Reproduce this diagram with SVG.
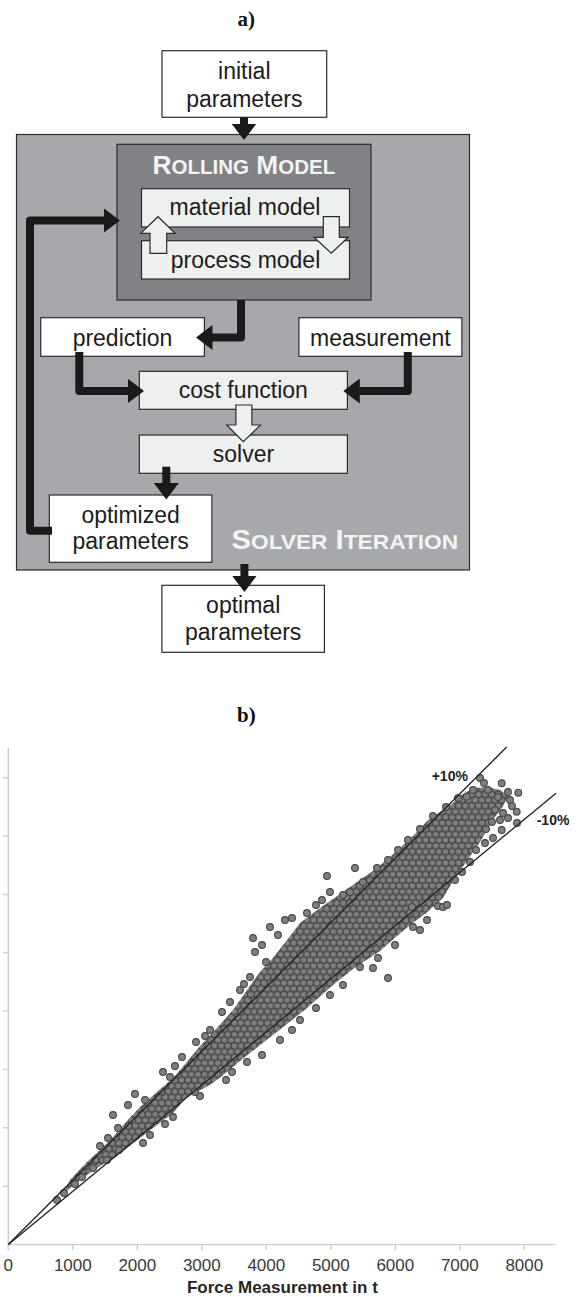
<svg xmlns="http://www.w3.org/2000/svg" width="581" height="1297" viewBox="0 0 581 1297">
<defs>
<style>
 .lbl{font-family:"Liberation Sans",Arial,sans-serif;font-size:23px;fill:#1c1c1c;text-anchor:middle}
 .wbox{fill:#ffffff;stroke:#2a2a2a;stroke-width:1.2}
 .lbox{fill:#eef0ef;stroke:#2a2a2a;stroke-width:1.2}
 .hollow{fill:#eef0ef;stroke:#2a2a2a;stroke-width:1.2}
 .conn{fill:none;stroke:#1a1a1a;stroke-width:8;stroke-linejoin:round;marker-end:url(#ah)}
 .title{font-family:"Liberation Sans",Arial,sans-serif;font-weight:bold;fill:#f4f4f4}
 .cap{font-family:"Liberation Serif","Times New Roman",serif;font-weight:bold;font-size:21px;fill:#111;text-anchor:middle}
 .tick{font-family:"Liberation Sans",Arial,sans-serif;font-size:17px;fill:#3a3a3a;text-anchor:middle}
 .axis{stroke:#cfcfcf;stroke-width:1.5;fill:none}
 .pt{fill:#7f7f7f;stroke:#474747;stroke-width:1.1}
 .ref{stroke:#262626;stroke-width:1.4;fill:none}
 .pct{font-family:"Liberation Sans",Arial,sans-serif;font-weight:bold;font-size:14px;fill:#222}
</style>
<marker id="ah" markerUnits="userSpaceOnUse" markerWidth="16.5" markerHeight="25" viewBox="0 0 16.5 25" refX="0.5" refY="12.5" orient="auto">
 <path d="M0,0 L16.5,12.5 L0,25 z" fill="#1a1a1a"/>
</marker>
<pattern id="dots" patternUnits="userSpaceOnUse" width="6.6" height="11.43">
 <rect width="6.6" height="11.43" fill="#7c7c7c"/>
 <circle cx="0" cy="0" r="3.2" class="pt"/>
 <circle cx="6.6" cy="0" r="3.2" class="pt"/>
 <circle cx="0" cy="11.43" r="3.2" class="pt"/>
 <circle cx="6.6" cy="11.43" r="3.2" class="pt"/>
 <circle cx="3.3" cy="5.715" r="3.2" class="pt"/>
</pattern>
<filter id="soft" x="-5%" y="-5%" width="110%" height="110%"><feGaussianBlur stdDeviation="0.45"/></filter>
</defs>

<rect width="581" height="1297" fill="#ffffff"/>

<!-- panel a: solver loop -->
<text class="cap" x="246.3" y="26">a)</text>

<g id="solver-iteration">
 <rect x="16.5" y="134.5" width="453" height="435.5" fill="#a7a8ab" stroke="#2a2a2a" stroke-width="1.2"/>
</g>
<g id="rolling-model">
 <rect x="117" y="144.3" width="254" height="155.7" fill="#818285" stroke="#2a2a2a" stroke-width="1.2"/>
</g>
<g id="material-model">
 <rect class="lbox" x="141.5" y="188.7" width="208" height="38.3"/>
 <text class="lbl" x="245" y="215">material model</text>
</g>
<g id="process-model">
 <rect class="lbox" x="141.5" y="240.7" width="208" height="38.3"/>
 <text class="lbl" x="245.5" y="268">process model</text>
</g>
<g id="initial-parameters">
 <rect class="wbox" x="162" y="50.7" width="164.7" height="66.6"/>
 <text class="lbl" x="244.3" y="79">initial</text>
 <text class="lbl" x="244.3" y="106.7">parameters</text>
</g>
<g id="prediction">
 <rect class="wbox" x="40.7" y="317.7" width="163.7" height="38.6"/>
 <text class="lbl" x="122.5" y="346">prediction</text>
</g>
<g id="measurement">
 <rect class="wbox" x="298.9" y="317.7" width="163" height="38.6"/>
 <text class="lbl" x="380.4" y="346">measurement</text>
</g>
<g id="cost-function">
 <rect class="lbox" x="139.3" y="371.3" width="208.1" height="38"/>
 <text class="lbl" x="243.3" y="398.3">cost function</text>
</g>
<g id="solver">
 <rect class="lbox" x="139.3" y="435" width="208.1" height="38.3"/>
 <text class="lbl" x="243.5" y="462.3">solver</text>
</g>
<g id="optimized-parameters">
 <rect class="wbox" x="49.3" y="495" width="162.6" height="67.3"/>
 <text class="lbl" x="130.6" y="522.7">optimized</text>
 <text class="lbl" x="130.6" y="549.3">parameters</text>
</g>
<g id="optimal-parameters">
 <rect class="wbox" x="161.9" y="585.3" width="162.5" height="67"/>
 <text class="lbl" x="243.2" y="612.7">optimal</text>
 <text class="lbl" x="243.2" y="640">parameters</text>
</g>

<g id="connectors">
 <path class="conn" d="M244,117.3 V124"/>
 <path class="conn" d="M241,300 V337.5 H212"/>
 <path class="conn" d="M79.3,352 V391 H128"/>
 <path class="conn" d="M407.8,352 V391 H359.3"/>
 <path class="conn" d="M166.3,466.7 V483.5"/>
 <path class="conn" d="M244.4,564 V576"/>
 <path class="conn" d="M52,530.8 H30 V220.5 H104"/>
 <!-- hollow exchange arrows -->
 <polygon class="hollow" points="150,253.3 150,233.3 140.7,233.3 158,216.7 175.2,233.3 166.7,233.3 166.7,253.3"/>
 <polygon class="hollow" points="323.3,216.7 339.3,216.7 339.3,237.3 348.1,237.3 331.3,253.3 314,237.3 323.3,237.3"/>
 <polygon class="hollow" points="235.9,405 251.9,405 251.9,425 260.4,425 243.3,441.7 226.7,425 235.9,425"/>
</g>

<g id="titles">
 <text class="title" x="243.9" y="174.3" text-anchor="middle" textLength="182.6" lengthAdjust="spacingAndGlyphs"><tspan font-size="25">R</tspan><tspan font-size="19.5">OLLING</tspan><tspan font-size="25"> M</tspan><tspan font-size="19.5">ODEL</tspan></text>
 <text class="title" x="231.5" y="549.3" textLength="226.6" lengthAdjust="spacingAndGlyphs"><tspan font-size="27">S</tspan><tspan font-size="21">OLVER</tspan><tspan font-size="27"> I</tspan><tspan font-size="21">TERATION</tspan></text>
</g>

<!-- panel b: force prediction vs. measurement -->
<text class="cap" x="246.3" y="721.5">b)</text>

<g id="chart">
 <g id="axes">
  <path class="axis" d="M8.3,748 V1244.5 H555.6"/>
  <path class="axis" d="M3,1186.15 H8.3 M3,1127.8 H8.3 M3,1069.45 H8.3 M3,1011.1 H8.3 M3,952.75 H8.3 M3,894.4 H8.3 M3,836.05 H8.3 M3,777.7 H8.3"/>
  <path class="axis" d="M8.3,1244.5 V1250 M72.8,1244.5 V1250 M137.3,1244.5 V1250 M201.8,1244.5 V1250 M266.3,1244.5 V1250 M330.8,1244.5 V1250 M395.3,1244.5 V1250 M459.8,1244.5 V1250 M524.3,1244.5 V1250"/>
  <text class="tick" x="8.3" y="1271">0</text>
  <text class="tick" x="72.8" y="1271">1000</text>
  <text class="tick" x="137.3" y="1271">2000</text>
  <text class="tick" x="201.8" y="1271">3000</text>
  <text class="tick" x="266.3" y="1271">4000</text>
  <text class="tick" x="330.8" y="1271">5000</text>
  <text class="tick" x="395.3" y="1271">6000</text>
  <text class="tick" x="459.8" y="1271">7000</text>
  <text class="tick" x="524.3" y="1271">8000</text>
  <text x="282.4" y="1293" text-anchor="middle" font-family="Liberation Sans, Arial, sans-serif" font-weight="bold" font-size="17" fill="#262626">Force Measurement in t</text>
 </g>

 <g id="scatter" filter="url(#soft)">
  <!-- dense core of the point cloud -->
  <polygon fill="url(#dots)" points="62,1195 70,1180 87,1162 100,1150 113,1137 127,1121 140,1107 157,1092 173,1078 187,1062 200,1046 217,1028 233,1010 247,990 260,972 273,958 287,940 300,923 320,908 340,894 360,880 377,868 390,857 400,848 413,836 427,821 440,812 453,803 463,794 474,788 488,787 500,790 508,796 503,806 494,818 487,830 480,842 471,855 462,868 453,881 443,898 425,914 410,925 397,936 380,951 353,969 333,985 307,1008 287,1024 273,1035 255,1049 240,1061 222,1076 210,1085 187,1097 173,1113 157,1125 140,1138 117,1156 100,1166 87,1175 70,1188 62,1196"/>
  <!-- scattered points round the core -->
  <g class="pt">
   <circle cx="57" cy="1200" r="3.4"/><circle cx="64" cy="1193" r="3.4"/><circle cx="75" cy="1184" r="3.4"/><circle cx="82" cy="1177" r="3.4"/>
   <circle cx="93" cy="1168" r="3.4"/><circle cx="107" cy="1160" r="3.4"/><circle cx="119" cy="1150" r="3.4"/><circle cx="143" cy="1143" r="3.4"/>
   <circle cx="150" cy="1135" r="3.4"/><circle cx="173" cy="1117" r="3.4"/><circle cx="165" cy="1124" r="3.4"/><circle cx="200" cy="1096" r="3.4"/>
   <circle cx="195" cy="1092" r="3.4"/><circle cx="226" cy="1080" r="3.4"/><circle cx="262" cy="1055" r="3.4"/><circle cx="247" cy="1062" r="3.4"/>
   <circle cx="232" cy="1072" r="3.4"/><circle cx="280" cy="1040" r="3.4"/><circle cx="292" cy="1030" r="3.4"/>
   <circle cx="300" cy="1020" r="3.4"/><circle cx="316" cy="1008" r="3.4"/><circle cx="330" cy="995" r="3.4"/><circle cx="343" cy="985" r="3.4"/>
   <circle cx="360" cy="967" r="3.4"/><circle cx="373" cy="968" r="3.4"/><circle cx="378" cy="958" r="3.4"/><circle cx="388" cy="978" r="3.4"/>
   <circle cx="395" cy="945" r="3.4"/><circle cx="410" cy="913" r="3.4"/><circle cx="412" cy="907" r="3.4"/><circle cx="420" cy="930" r="3.4"/>
   <circle cx="427" cy="920" r="3.4"/><circle cx="413" cy="927" r="3.4"/><circle cx="438" cy="906" r="3.4"/><circle cx="443" cy="907" r="3.4"/>
   <circle cx="447" cy="905" r="3.4"/><circle cx="455" cy="880" r="3.4"/><circle cx="462" cy="872" r="3.4"/><circle cx="485" cy="843" r="3.4"/>
   <circle cx="493" cy="838" r="3.4"/><circle cx="501.7" cy="830" r="3.4"/><circle cx="500" cy="820" r="3.4"/><circle cx="510" cy="800" r="3.4"/>
   <circle cx="516.7" cy="811.7" r="3.4"/><circle cx="518.3" cy="792.7" r="3.4"/><circle cx="501.7" cy="783.3" r="3.4"/><circle cx="480" cy="778" r="3.4"/>
   <circle cx="466.7" cy="796.7" r="3.4"/><circle cx="473" cy="790" r="3.4"/><circle cx="488" cy="790" r="3.4"/>
   <circle cx="508" cy="792" r="3.4"/><circle cx="517" cy="823" r="3.4"/><circle cx="503" cy="813" r="3.4"/><circle cx="492" cy="822" r="3.4"/>
   <circle cx="508" cy="818" r="3.4"/><circle cx="498" cy="797" r="3.4"/><circle cx="512" cy="806" r="3.4"/><circle cx="495" cy="810" r="3.4"/>
   <circle cx="476" cy="850" r="3.4"/><circle cx="470" cy="862" r="3.4"/><circle cx="486" cy="829" r="3.4"/><circle cx="484" cy="783" r="3.4"/>
   <circle cx="100" cy="1146" r="3.4"/><circle cx="108" cy="1138" r="3.4"/><circle cx="113" cy="1115" r="3.4"/><circle cx="118" cy="1128" r="3.4"/>
   <circle cx="128" cy="1105" r="3.4"/><circle cx="135" cy="1094" r="3.4"/><circle cx="145" cy="1100" r="3.4"/><circle cx="163" cy="1072" r="3.4"/>
   <circle cx="170" cy="1077" r="3.4"/><circle cx="175" cy="1066" r="3.4"/><circle cx="182" cy="1057" r="3.4"/><circle cx="196" cy="1042" r="3.4"/>
   <circle cx="205" cy="1036" r="3.4"/><circle cx="210" cy="1030" r="3.4"/><circle cx="222" cy="1012" r="3.4"/><circle cx="230" cy="1002" r="3.4"/>
   <circle cx="240" cy="990" r="3.4"/><circle cx="250" cy="977" r="3.4"/><circle cx="253" cy="938" r="3.4"/><circle cx="255" cy="952" r="3.4"/>
   <circle cx="262" cy="945" r="3.4"/><circle cx="270" cy="927" r="3.4"/><circle cx="278" cy="935" r="3.4"/><circle cx="285" cy="920" r="3.4"/>
   <circle cx="292" cy="918" r="3.4"/><circle cx="307" cy="913" r="3.4"/><circle cx="316" cy="905" r="3.4"/><circle cx="322" cy="900" r="3.4"/>
   <circle cx="327" cy="876" r="3.4"/><circle cx="330" cy="892" r="3.4"/><circle cx="343" cy="895" r="3.4"/><circle cx="350" cy="892" r="3.4"/>
   <circle cx="355" cy="868" r="3.4"/><circle cx="363" cy="882" r="3.4"/><circle cx="377" cy="868" r="3.4"/><circle cx="388" cy="860" r="3.4"/>
   <circle cx="398" cy="850" r="3.4"/><circle cx="408" cy="840" r="3.4"/><circle cx="420" cy="829" r="3.4"/><circle cx="433" cy="816" r="3.4"/>
   <circle cx="446" cy="807" r="3.4"/><circle cx="458" cy="798" r="3.4"/><circle cx="266" cy="962" r="3.4"/><circle cx="244" cy="984" r="3.4"/>
  </g>
 </g>

 <g id="tolerance-lines">
  <path class="ref" d="M8.3,1244.5 L506.7,747"/>
  <path class="ref" d="M8.3,1244.5 L556,793.3"/>
  <text class="pct" x="431.7" y="781">+10%</text>
  <text class="pct" x="536.7" y="824.5">-10%</text>
 </g>
</g>
</svg>
